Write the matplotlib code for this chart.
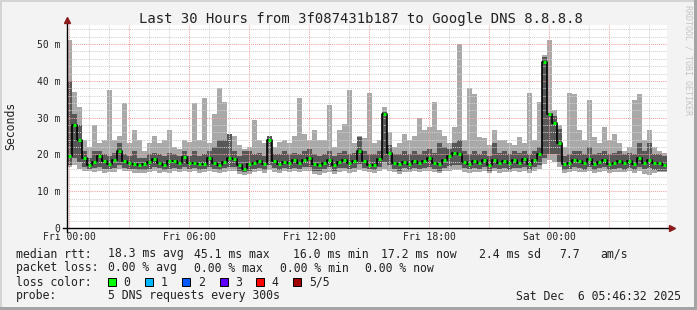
import numpy as np
import matplotlib
matplotlib.use("Agg")
import matplotlib.pyplot as plt
from matplotlib.patches import Rectangle

plt.rcParams['font.family'] = ['DejaVu Sans Mono']

# 120 columns of 15 min each, first column starts at Thu 23:54 (hours from Fri 00:00)
start_h = -0.1
step_h = 0.25

# median rtt (ms)
median = [19.5, 28, 24, 19, 17.2, 18, 19.5, 18.2, 17.3, 18.5,
          21, 18.3, 17.8, 17.5, 17, 17.3, 18, 18.8, 17.8, 17.2,
          18.2, 18.3, 17.8, 19.2, 17.6, 17.8, 17.5, 17.5, 19, 17.8,
          17.2, 18, 19, 18.8, 17.2, 16.0, 17.3, 17.8, 18.3, 17.5,
          24, 18.2, 17.5, 18, 17.6, 18.4, 17.8, 18.6, 19, 17.4,
          17, 17.8, 18.5, 17.2, 18, 18.4, 17.6, 18.2, 21, 18.3,
          17, 17.2, 18.8, 31, 20.5, 17.8, 17.4, 18, 17.5, 18.2,
          17.6, 18.3, 19, 17.8, 17.4, 18.4, 19.5, 20.5, 20.2, 18,
          17.5, 18.3, 17.8, 18.6, 17.2, 18.5, 17.8, 18.2, 17.6, 18.4,
          17.8, 18.8, 17.4, 18.6, 20, 45.1, 31, 28.5, 23, 17.3,
          17.8, 18.5, 18.2, 17.6, 18.8, 17.4, 18, 18.6, 17.4, 17.8,
          18.3, 17.6, 18.2, 17.5, 19, 17.8, 18.5, 17.6, 17.8, 17.2]

# smoke: outer (light) range
smoke_hi = [51, 37, 33, 24, 22, 28, 23, 24, 37.5, 24,
            25, 34, 23, 26.6, 24, 21, 23, 25, 23, 24,
            26.6, 22, 21.5, 24, 23.5, 34, 24, 35.3, 23, 31,
            38, 34.3, 25.5, 25, 22.5, 21.5, 22, 29.5, 24, 23,
            25, 22, 23.5, 24, 23, 25, 35.3, 25.6, 24, 26.6,
            24, 24, 33.5, 22, 26.6, 28.4, 37.5, 23, 25, 24.5,
            36.6, 23, 24, 33, 26, 22, 23, 25.5, 24, 25,
            29.8, 26.6, 27.5, 34.3, 26.6, 25, 23, 27.5, 50, 24,
            38, 36.5, 24.8, 24.5, 22.5, 26.6, 24, 24, 23, 22.5,
            24.8, 23, 36.6, 24, 34.3, 47, 51, 32, 28, 22,
            36.6, 36.4, 26.6, 24, 34.8, 24.8, 23, 27.5, 24, 25.6,
            23, 21, 22, 34.8, 36.5, 24, 26.6, 22, 21, 20.5]
smoke_lo = [16.5, 17, 16, 15.5, 15.5, 15.3, 15.5, 15, 15.3, 15.3,
            16, 15.5, 15.5, 15, 15, 15, 15.3, 15.5, 15, 15.3,
            15, 15.5, 15.3, 15.5, 15.2, 15.4, 15, 15.3, 15.5, 15.2,
            15, 15.3, 15.5, 15.4, 14.8, 14.4, 14.6, 15.2, 15.4, 15,
            15.8, 15.3, 15, 15.4, 15.2, 15.5, 15.2, 15.6, 15.4, 14.6,
            14.5, 15, 15.3, 14.8, 15.2, 15.4, 15, 15.3, 15.8, 15.4,
            15.2, 15, 15.4, 16, 15.5, 15.2, 14.8, 15.3, 15.1, 15.4,
            15.2, 15.5, 15.5, 15.3, 14.9, 15.4, 15.6, 15.8, 15.8, 15.2,
            15, 15.3, 15.1, 15.5, 14.9, 15.4, 15, 15.3, 15.1, 15.4,
            15.2, 15.5, 15, 15.4, 16, 17.5, 18.5, 18, 16.5, 15,
            15.2, 15.5, 15.3, 15.1, 15.5, 14.9, 15.3, 15.4, 15, 15.2,
            15.3, 15.1, 15.4, 15, 15.5, 14.6, 14.3, 15, 15.1, 15.3]

# smoke: inner (dark) range
inner_hi = [40, 31, 28, 21, 19, 21, 21, 20, 19.5, 20.5,
            23, 20, 19.5, 21, 19, 19, 20, 20.5, 20, 19.5,
            20.5, 20, 19.5, 21, 19.5, 21, 19.5, 20, 21, 22,
            24, 24, 25.5, 21, 19.5, 21, 21, 20, 20.5, 19.5,
            25, 20, 20, 21, 20, 20.5, 20, 21, 21.5, 20,
            19.5, 20, 21, 19.5, 20.5, 21, 20, 20.5, 24.8, 21,
            20, 20, 21, 31.5, 22.5, 20, 20, 21, 20, 21,
            20, 21, 21.5, 20.5, 23, 22, 21.5, 23, 24, 21,
            20, 21, 20, 21, 19.5, 23, 20.5, 21, 20, 21,
            20.5, 21, 20, 21, 22, 46.4, 31, 30.5, 27, 19.5,
            20, 21, 21, 20, 22, 20, 20.5, 21, 20, 20.5,
            21, 20, 20.5, 20, 23, 21, 23, 20, 20, 19.5]
inner_lo = [17.2, 19, 18, 16.5, 16, 16.2, 16.5, 16, 16, 16.2,
            17, 16.3, 16, 16, 15.8, 15.8, 16, 16.5, 16.2, 15.8,
            16, 16.3, 16, 16.5, 16, 16.2, 15.8, 16, 16.5, 16,
            15.8, 16.2, 16.5, 16.5, 15.6, 15.2, 15.5, 16, 16.3, 15.8,
            17, 16.2, 15.8, 16.2, 16, 16.4, 16, 16.5, 16.6, 15.5,
            15.5, 16, 16.5, 15.6, 16.2, 16.3, 16, 16.2, 17.5, 16.3,
            16, 15.7, 16.5, 18, 17, 16.1, 15.6, 16.2, 15.9, 16.3,
            16, 16.4, 16.6, 16.1, 15.6, 16.3, 16.8, 17.2, 17, 16.2,
            16, 16.4, 16, 16.5, 15.6, 16.4, 16, 16.3, 15.9, 16.4,
            16.2, 16.6, 15.8, 16.5, 17.2, 19, 20, 20, 18, 15.8,
            16.1, 16.5, 16.3, 15.9, 16.6, 15.7, 16.2, 16.5, 15.8, 16,
            16.4, 15.9, 16.2, 15.8, 16.6, 16, 16.4, 15.8, 15.6, 15.4]

xtick_hours = [0, 6, 12, 18, 24]
xtick_labels = ['Fri 00:00', 'Fri 06:00', 'Fri 12:00', 'Fri 18:00', 'Sat 00:00']
ytick_vals = [0, 10, 20, 30, 40, 50]
ytick_labels = ['0', '10 m', '20 m', '30 m', '40 m', '50 m']

loss_labels = ['0', '1', '2', '3', '4', '5/5']
loss_colors = ['#00ff00', '#00b8ff', '#0059ff', '#5e00ff', '#ff0000', '#a00000']

W, H = 697, 310


def fx(px):
    return px / W


def fy(py):
    return 1 - py / H


n = len(median)
edges = start_h + step_h * np.arange(n + 1)


def ext(a):
    return np.r_[a, a[-1]]


fig = plt.figure(figsize=(W / 100, H / 100), dpi=100, facecolor='#f3f3f3')
ax = fig.add_axes([fx(67), fy(228), 600 / W, 203 / H])
ax.set_facecolor('white')

ax.fill_between(edges, ext(smoke_lo), ext(smoke_hi), step='post',
                color='#a9a9a9', lw=0, zorder=1)
ax.fill_between(edges, ext(inner_lo), ext(inner_hi), step='post',
                color='#575757', lw=0, zorder=2)

# grid on top of the smoke, like rrdtool
for h in range(0, 30):
    c = '#f2a0a0' if h % 3 == 0 else '#d0d0d0'
    ax.axvline(h, color=c, lw=0.75, ls=(0, (1, 1)), zorder=3)
for v in range(2, 56, 2):
    c = '#f2a0a0' if v % 10 == 0 else '#d0d0d0'
    ax.axhline(v, color=c, lw=0.75, ls=(0, (1, 1)), zorder=3)

ax.step(edges, ext(median), where='post', color='black', lw=1.2, zorder=4)
ax.hlines(median, edges[:-1] + 0.05, edges[1:] - 0.05, color='#00ff00',
          lw=2.2, zorder=5)

ax.set_xlim(edges[0], edges[-1])
ax.set_ylim(0, 55.2)
for s in ax.spines.values():
    s.set_visible(False)

# axes with arrow heads
ax.plot([0.1 * -1, 0.1 * -1], [-1.0, 56.3], color='black', lw=1,
        clip_on=False, zorder=6)
ax.plot([-0.3, 30.1], [0, 0], color='black', lw=1, clip_on=False, zorder=6)
ax.plot([-0.1], [56.6], marker='^', color='#8b1a1a', ms=4.5, clip_on=False,
        zorder=7)
ax.plot([30.15], [0], marker='>', color='#8b1a1a', ms=4.5, clip_on=False,
        zorder=7)

ax.set_xticks(xtick_hours)
ax.set_xticklabels(xtick_labels)
ax.set_yticks(ytick_vals)
ax.set_yticklabels(ytick_labels)
ax.tick_params(axis='both', length=0, labelsize=7, colors='#222222')
ax.tick_params(axis='y', pad=5)
ax.tick_params(axis='x', pad=3)

fig.text(fx(361), fy(19), 'Last 30 Hours from 3f087431b187 to Google DNS 8.8.8.8',
         ha='center', va='center', fontsize=10, color='#222222')
fig.text(fx(11), fy(126), 'Seconds', rotation=90, ha='center', va='center',
         fontsize=8.3, color='#222222')
fig.text(fx(688), fy(60), 'RRDTOOL / TOBI OETIKER', rotation=270,
         ha='center', va='center', fontsize=6, color='#c4c4c4')

fs = 8.3
rows = [
    (254, [(16, 'median rtt:'), (107.5, '18.3 ms avg'), (194, '45.1 ms max'),
           (293, '16.0 ms min'), (381, '17.2 ms now'), (479, '2.4 ms sd'),
           (559, '7.7'), (600, 'am/s')]),
    (268, [(16, 'packet loss:'), (107.5, '0.00 % avg'), (194, '0.00 % max'),
           (280, '0.00 % min'), (365, '0.00 % now')]),
    (282, [(16, 'loss color:')]),
    (296, [(16, 'probe:'), (107.5, '5 DNS requests every 300s')]),
]
for y, items in rows:
    for x, s in items:
        fig.text(fx(x), fy(y), s, ha='left', va='center', fontsize=fs,
                 color='#222222')

box_x = [108, 145.3, 182.2, 219.5, 256.4, 293.3]
for bx, lab, col in zip(box_x, loss_labels, loss_colors):
    fig.patches.append(Rectangle((fx(bx), fy(286)), 8 / W, 8 / H,
                                 transform=fig.transFigure, facecolor=col,
                                 edgecolor='black', lw=0.7))
    fig.text(fx(bx + 15.5), fy(282), lab, ha='left', va='center',
             fontsize=fs, color='#222222')

fig.text(fx(681), fy(296), 'Sat Dec  6 05:46:32 2025', ha='right',
         va='center', fontsize=fs, color='#222222')

# 3d-ish frame
fig.patches.append(Rectangle((0, 0), 2 / W, 1, transform=fig.transFigure,
                             facecolor='#d4d4d4', lw=0))
fig.patches.append(Rectangle((0, 1 - 2 / H), 1, 2 / H, transform=fig.transFigure,
                             facecolor='#d4d4d4', lw=0))
fig.patches.append(Rectangle((1 - 3 / W, 0), 3 / W, 1, transform=fig.transFigure,
                             facecolor='#a4a4a4', lw=0))
fig.patches.append(Rectangle((0, 0), 1, 3 / H, transform=fig.transFigure,
                             facecolor='#a4a4a4', lw=0))

fig.savefig('out.png', dpi=100, facecolor=fig.get_facecolor())
